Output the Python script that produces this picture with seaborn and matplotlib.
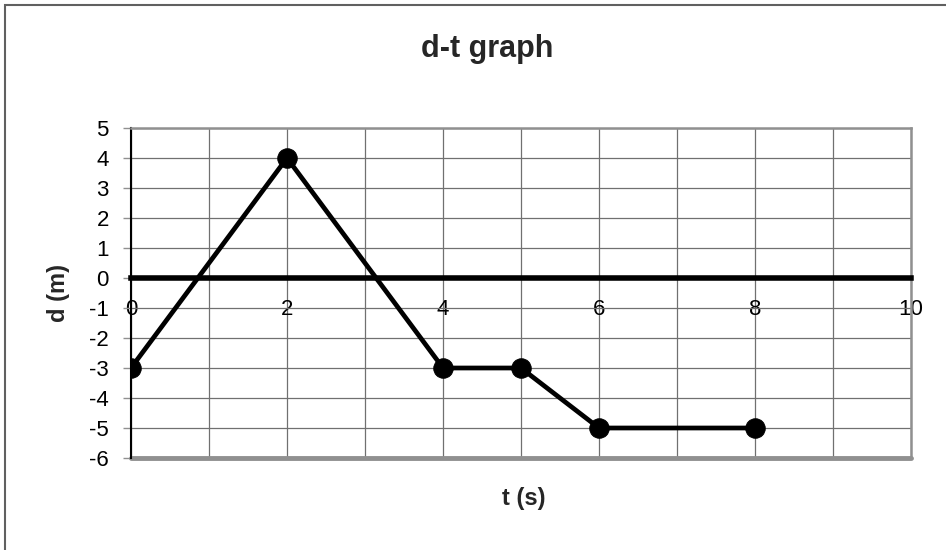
import numpy as np
import pandas as pd
import matplotlib
matplotlib.use("Agg")
import matplotlib.pyplot as plt
import seaborn as sns
from matplotlib.patches import Rectangle

# Data
t_values = [0, 2, 4, 5, 6, 8]
d_values = [-3, 4, -3, -3, -5, -5]

x_major = [0, 2, 4, 6, 8, 10]
x_minor = [1, 3, 5, 7, 9]
y_ticks = list(range(-6, 6))

df = pd.DataFrame({"t": t_values, "d": d_values})

sns.set_style("white")
plt.rcParams["font.family"] = ["Liberation Sans", "DejaVu Sans"]

fig = plt.figure(figsize=(9.46, 5.5), dpi=100)
ax = fig.add_axes([131 / 946, 1 - 458 / 550, 780 / 946, 330 / 550])

# outer chart border (only top and left visible in the crop)
fig.patches.append(Rectangle((5 / 946, -0.1), 1.2, 1 - 5 / 550 + 0.1,
                             transform=fig.transFigure, fill=False,
                             edgecolor="#606060", linewidth=1.5))

# x axis sits on d = 0 (set before ticks, since it resets them)
ax.spines["bottom"].set_position(("data", 0))

sns.lineplot(data=df, x="t", y="d", ax=ax, color="black", linewidth=3.4,
             marker="o", markersize=14, markeredgecolor="black", zorder=5)

ax.set_xlim(0, 10)
ax.set_ylim(-6, 5)
ax.set_xticks(x_major)
ax.set_xticks(x_minor, minor=True)
ax.set_yticks(y_ticks)
ax.set_xticklabels([str(v) for v in x_major])
ax.set_yticklabels([str(v) for v in y_ticks])

ax.grid(True, which="both", color="#707070", linewidth=0.9)
ax.set_axisbelow(True)

ax.spines["bottom"].set_linewidth(4)
ax.spines["bottom"].set_color("black")
ax.spines["bottom"].set_zorder(4)
ax.spines["left"].set_color("black")
ax.spines["left"].set_linewidth(1.5)
for s in ["top", "right"]:
    ax.spines[s].set_color("#909090")
    ax.spines[s].set_linewidth(1.8)
ax.axhline(-6, color="#909090", linewidth=3.5, clip_on=False)

ax.tick_params(axis="x", which="both", length=0, pad=15, colors="black",
               labelsize=16)
ax.tick_params(axis="y", length=6, width=1, color="#909090", pad=10,
               left=True, labelsize=16, labelcolor="black")

ax.set_xlabel("")
ax.set_ylabel("")
fig.text(487 / 946, 1 - 49 / 550, "d-t graph", ha="center", va="center",
         fontsize=22, fontweight="bold")
fig.text(524 / 946, 1 - 499 / 550, "t (s)", ha="center", va="center",
         fontsize=17, fontweight="bold")
fig.text(59 / 946, 1 - 293 / 550, "d (m)", ha="center", va="center",
         rotation=90, fontsize=17, fontweight="bold")

fig.savefig("out.png", dpi=100)
